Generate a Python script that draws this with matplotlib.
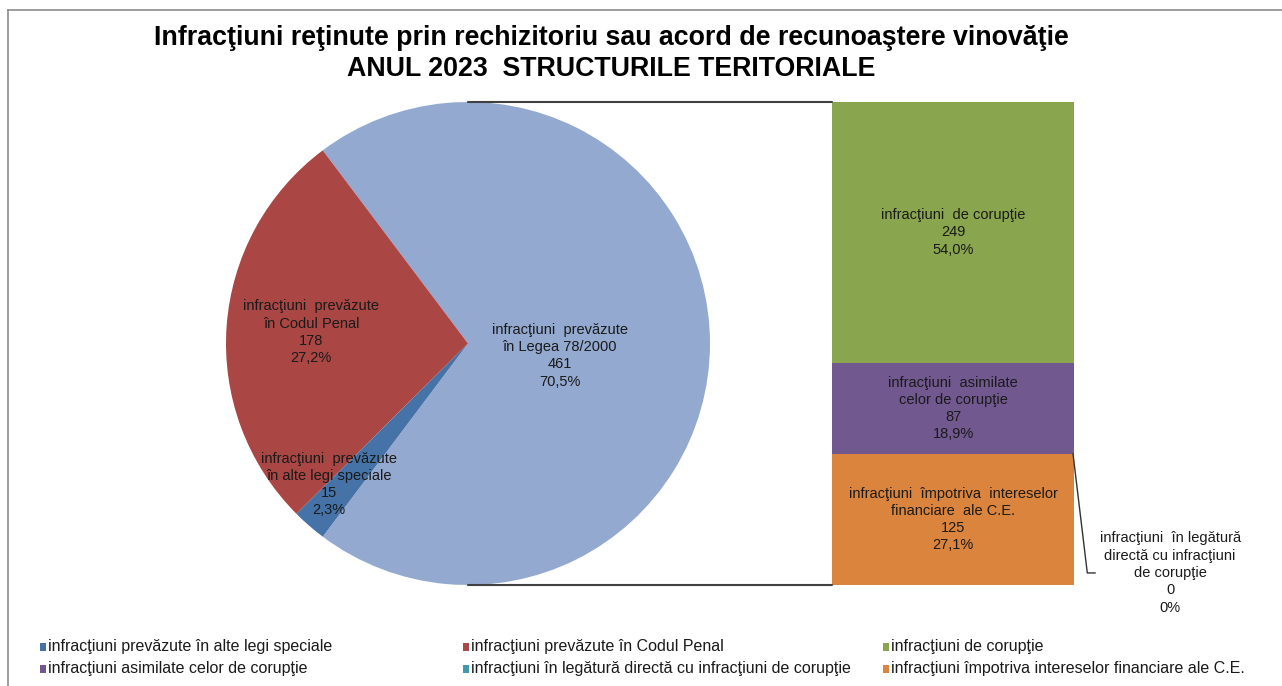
import matplotlib
matplotlib.use("Agg")
import matplotlib.pyplot as plt
from matplotlib.patches import Rectangle, ConnectionPatch
from matplotlib.lines import Line2D
import numpy as np

plt.rcParams['font.family'] = ['Liberation Sans', 'DejaVu Sans']

# ---- data ----
title_lines = ["Infracţiuni reţinute prin rechizitoriu sau acord de recunoaştere vinovăţie",
               "ANUL 2023  STRUCTURILE TERITORIALE"]

pie_labels = ["infracţiuni  prevăzute\nîn Legea 78/2000",
              "infracţiuni  prevăzute\nîn Codul Penal",
              "infracţiuni  prevăzute\nîn alte legi speciale"]
pie_values = [461, 178, 15]
pie_colors = ["#93A9CF", "#AA4643", "#4572A7"]

# bar segments listed from top to bottom
bar_labels = ["infracţiuni  de corupţie",
              "infracţiuni  asimilate\ncelor de corupţie",
              "infracţiuni  în legătură\ndirectă cu infracţiuni\nde corupţie",
              "infracţiuni  împotriva  intereselor\nfinanciare  ale C.E."]
bar_values = [249, 87, 0, 125]
bar_colors = ["#89A54E", "#71588F", "#4198AF", "#DB843D"]

legend_labels = ["infracţiuni prevăzute în alte legi speciale",
                 "infracţiuni prevăzute în Codul Penal",
                 "infracţiuni de corupţie",
                 "infracţiuni asimilate celor de corupţie",
                 "infracţiuni în legătură directă cu infracţiuni de corupţie",
                 "infracţiuni împotriva intereselor financiare ale C.E."]
legend_colors = ["#4572A7", "#AA4643", "#89A54E", "#71588F", "#4198AF", "#DB843D"]


def fmt_pct(v, total):
    p = 100.0 * v / total
    if v == 0:
        return "0%"
    return ("%.1f%%" % p).replace(".", ",")


W, H = 1282, 686
fig = plt.figure(figsize=(W / 100, H / 100), dpi=100)
fig.patch.set_facecolor("white")


def fx(x):
    return x / W


def fy(y):
    return 1 - y / H


LBL = dict(fontsize=10.5, color="#1A1A1A", linespacing=1.3)

# border
fig.add_artist(Line2D([fx(8), fx(8)], [fy(10), 0], color="#8C8C8C", lw=1.2))
fig.add_artist(Line2D([fx(8), 1], [fy(10), fy(10)], color="#8C8C8C", lw=1.2))

# title
fig.text(fx(611), fy(38), title_lines[0], ha="center", va="center",
         fontsize=19.3, fontweight="bold", color="black")
fig.text(fx(611), fy(69), title_lines[1], ha="center", va="center",
         fontsize=19.3, fontweight="bold", color="black")

# ---- pie ----
top, bot = 102, 585
axp = fig.add_axes([fx(226), fy(bot), (710 - 226) / W, (bot - top) / H])
total_pie = sum(pie_values)
start = -180.0 * pie_values[0] / total_pie
wedges, _ = axp.pie(pie_values, colors=pie_colors, startangle=start,
                    counterclock=True, radius=1.0,
                    wedgeprops=dict(linewidth=0))
axp.set_xlim(-1, 1)
axp.set_ylim(-1, 1)
axp.set_aspect("auto")
axp.axis("off")

label_dist = [0.38, 0.65, 0.80]
label_offset = [(0.0, -0.05), (0.0, 0.0), (-0.05, 0.02)]
for w, lab, v, d, off in zip(wedges, pie_labels, pie_values, label_dist, label_offset):
    ang = np.deg2rad((w.theta1 + w.theta2) / 2)
    x = d * np.cos(ang) + off[0]
    y = d * np.sin(ang) + off[1]
    axp.text(x, y, "%s\n%d\n%s" % (lab, v, fmt_pct(v, total_pie)),
             ha="center", va="center", **LBL)

# ---- bar ----
axb = fig.add_axes([fx(832), fy(bot), (1074 - 832) / W, (bot - top) / H])
total_bar = sum(bar_values)
bottoms = []
cum = total_bar
for v in bar_values:
    cum -= v
    bottoms.append(cum)
for v, b, c in zip(bar_values, bottoms, bar_colors):
    axb.bar(0, v, bottom=b, width=1.0, color=c, linewidth=0)
axb.set_xlim(-0.5, 0.5)
axb.set_ylim(0, total_bar)
axb.axis("off")

for lab, v, b in zip(bar_labels, bar_values, bottoms):
    txt = "%s\n%d\n%s" % (lab, v, fmt_pct(v, total_bar))
    if v > 0:
        axb.text(0, b + v / 2, txt, ha="center", va="center", **LBL)
    else:
        # zero-size segment: label outside the bar with a leader line
        ly = 11.5
        axb.add_line(Line2D([0.496, 0.555, 0.587], [b, ly, ly],
                            color="#333333", lw=1, clip_on=False))
        axb.text(0.897, ly, txt, ha="center", va="center", clip_on=False, **LBL)

# connector lines pie -> bar
for yp, yb in [(1, total_bar), (-1, 0)]:
    con = ConnectionPatch(xyA=(0, yp), coordsA=axp.transData,
                          xyB=(-0.5, yb), coordsB=axb.transData,
                          color="#404040", lw=1.5)
    fig.add_artist(con)

# ---- legend ----
col_x = [40, 463, 883]
row_y = [647, 669]
for i, (lab, c) in enumerate(zip(legend_labels, legend_colors)):
    r, k = divmod(i, 3)
    x0, y0 = col_x[k], row_y[r]
    fig.add_artist(Rectangle((fx(x0), fy(y0 + 4)), 6 / W, 8 / H,
                             transform=fig.transFigure, color=c, lw=0))
    fig.text(fx(x0 + 8), fy(y0), lab, ha="left", va="center", fontsize=11.5,
             color="#1A1A1A")

fig.savefig("out.png", dpi=100, facecolor="white")
